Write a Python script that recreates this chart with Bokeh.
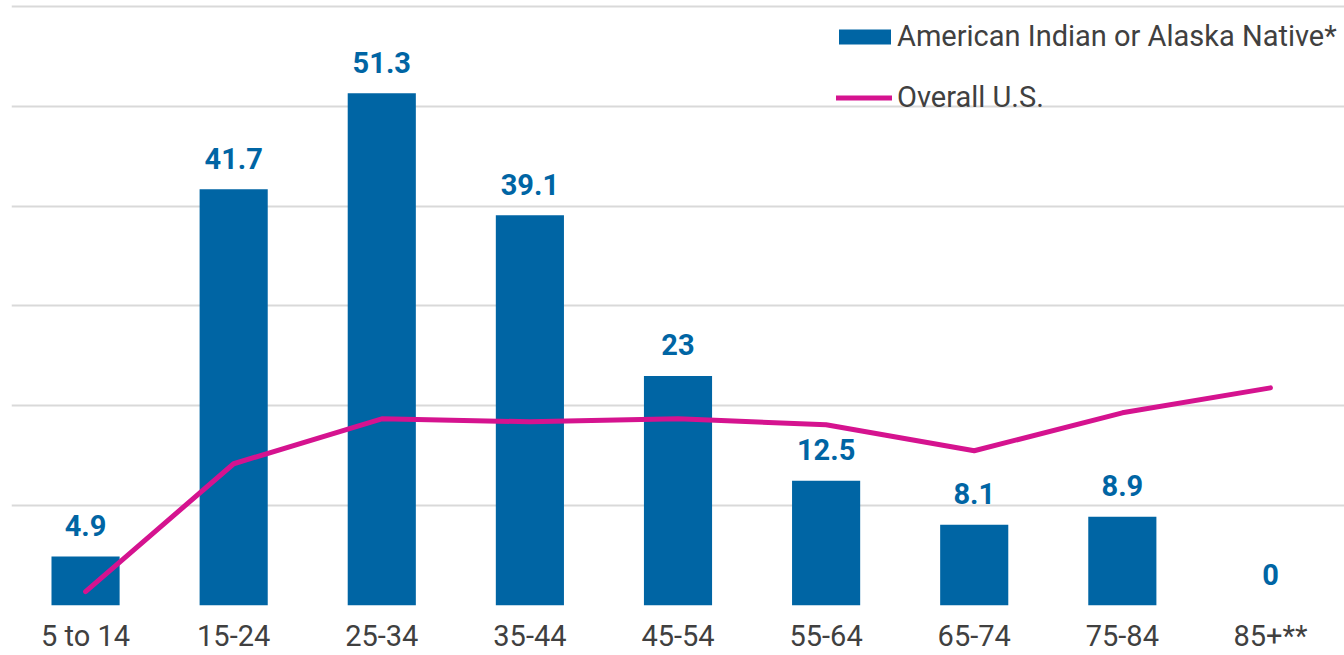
from bokeh.plotting import figure
from bokeh.models import ColumnDataSource, Legend, LegendItem, Range1d, FactorRange
from bokeh.embed import file_html
from bokeh.resources import INLINE
from bokeh.core.properties import value

categories = ["5 to 14", "15-24", "25-34", "35-44", "45-54", "55-64", "65-74", "75-84", "85+**"]
aian = [4.9, 41.7, 51.3, 39.1, 23, 12.5, 8.1, 8.9, 0]
overall = [1.4, 14.2, 18.7, 18.4, 18.7, 18.1, 15.5, 19.3, 21.8]
labels = ["4.9", "41.7", "51.3", "39.1", "23", "12.5", "8.1", "8.9", "0"]

BLUE = "#0065A4"
MAGENTA = "#D5138F"
TEXT = "#404040"
GRID = "#D9D9D9"

src = ColumnDataSource(dict(cat=categories, aian=aian, overall=overall, lab=labels))

p = figure(width=1344, height=655, output_backend="svg", toolbar_location=None,
           x_range=FactorRange(*categories, range_padding=0),
           y_range=Range1d(0, 60.6),
           min_border_left=11, min_border_right=0, min_border_top=0, min_border_bottom=50)
p.outline_line_color = None

bars = p.vbar(x="cat", top="aian", width=0.46, source=src, fill_color=BLUE, line_color=None)
line = p.line(x="cat", y="overall", source=src, line_color=MAGENTA, line_width=5, line_cap="round", line_join="round")

p.text(x="cat", y="aian", text="lab", source=src, text_align="center", text_baseline="middle",
       y_offset=-31, text_color=BLUE, text_font=value("Roboto"), text_font_size="29px",
       text_font_style="bold")

p.yaxis.visible = False
p.ygrid.ticker = [0, 10, 20, 30, 40, 50, 60]
p.ygrid.grid_line_color = GRID
p.ygrid.grid_line_width = 2
p.xgrid.grid_line_color = None

xa = p.xaxis[0]
xa.axis_line_color = None
xa.major_tick_line_color = None
xa.minor_tick_line_color = None
xa.major_label_text_font = "Roboto"
xa.major_label_text_font_size = "29px"
xa.major_label_text_color = TEXT
xa.major_label_standoff = 7

common = dict(orientation="vertical", label_text_font="Roboto", label_text_font_size="29px",
              label_text_color=TEXT, label_height=34, padding=0, margin=0,
              border_line_color=None, background_fill_alpha=0)

legend_bar = Legend(items=[LegendItem(label="American Indian or Alaska Native*", renderers=[bars])],
                    location=(821, 552), glyph_width=65, glyph_height=19, label_standoff=0, **common)
legend_line = Legend(items=[LegendItem(label="Overall U.S.", renderers=[line])],
                     location=(825, 491), glyph_width=56, glyph_height=15, label_standoff=5, **common)
p.add_layout(legend_bar, "center")
p.add_layout(legend_line, "center")

open("out.html", "w").write(file_html(p, INLINE))
